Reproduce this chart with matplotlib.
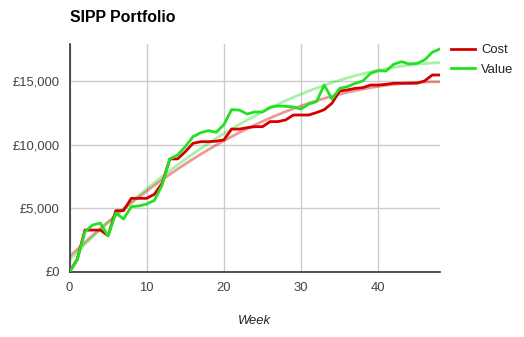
import matplotlib
matplotlib.use("Agg")
import matplotlib.pyplot as plt
import numpy as np

plt.rcParams["font.family"] = ["Liberation Sans", "DejaVu Sans"]

weeks = np.arange(0, 49)
cost = [0, 1000, 3300, 3300, 3300, 2860, 4830, 4830, 5800, 5800,
        5800, 6120, 6980, 8900, 8900, 9470, 10130, 10260, 10260, 10300,
        10400, 11250, 11250, 11360, 11440, 11440, 11840, 11840, 11970, 12360,
        12360, 12360, 12550, 12780, 13280, 14250, 14330, 14460, 14510, 14720,
        14720, 14770, 14860, 14860, 14860, 14860, 15040, 15510, 15510]
value = [0, 950, 3170, 3700, 3850, 2830, 4640, 4170, 5140, 5200,
         5350, 5640, 6850, 8900, 9210, 9870, 10650, 10970, 11130, 11000,
         11600, 12780, 12750, 12440, 12600, 12600, 12970, 13070, 13040, 12990,
         12830, 13230, 13410, 14720, 13620, 14460, 14590, 14850, 15040, 15640,
         15850, 15820, 16350, 16560, 16380, 16420, 16690, 17300, 17560]
yticks = [0, 5000, 10000, 15000]
xticks = [0, 10, 20, 30, 40]

red = "#d40000"
green = "#22e022"

fig = plt.figure(figsize=(5.24, 3.37), dpi=100)
ax = fig.add_axes([69.5 / 524, 65 / 337, (440 - 69.5) / 524, (272 - 44) / 337])

# polynomial trendlines fitted to each series
xs = np.linspace(0, 48, 200)
for ys, col in [(cost, red), (value, green)]:
    coef = np.polyfit(weeks, ys, 2)
    ax.plot(xs, np.polyval(coef, xs), color=col, alpha=0.4, lw=2, zorder=2)

ax.plot(weeks, cost, color=red, lw=2, label="Cost", zorder=3)
ax.plot(weeks, value, color=green, lw=2, label="Value", zorder=4)

ax.set_xlim(0, 48)
ax.set_ylim(0, 17950)
ax.set_xticks(xticks)
ax.set_yticks(yticks)
ax.set_yticklabels(["£{:,}".format(v) for v in yticks])
ax.grid(color="#cccccc", lw=1)
ax.set_axisbelow(True)
for s in ["top", "right"]:
    ax.spines[s].set_visible(False)
for s in ["left", "bottom"]:
    ax.spines[s].set_color("#333333")
    ax.spines[s].set_linewidth(1.2)
ax.tick_params(length=0, labelsize=9.4, colors="#444444", pad=7)

ax.set_xlabel("Week", fontsize=9.4, style="italic", color="#222222", labelpad=15)
fig.text(70 / 524, 1 - 18 / 337, "SIPP Portfolio", fontsize=11.4, weight="bold",
         va="center", ha="left", color="#000000")

ax.legend(loc="upper left", bbox_to_anchor=(0.998, 1.05), frameon=False,
          fontsize=9.4, handlelength=1.8, handletextpad=0.5, labelspacing=0.55,
          labelcolor="#222222")

fig.savefig("out.png", dpi=100)
